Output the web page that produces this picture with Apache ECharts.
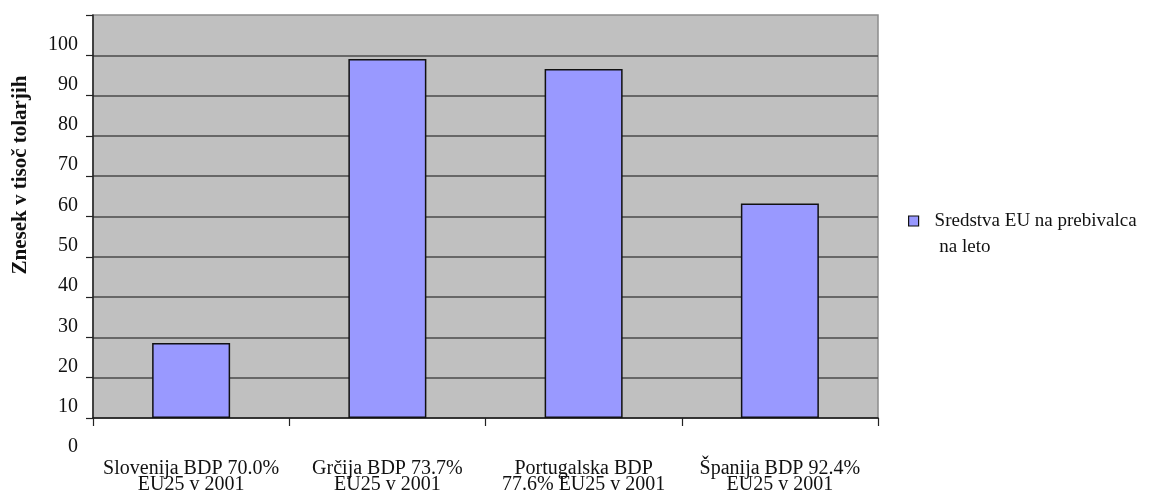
<!DOCTYPE html>
<html>
<head>
<meta charset="utf-8">
<style>
  html, body { margin: 0; padding: 0; background: #fff; }
  #chart { width: 1159px; height: 500px; }
</style>
<script src="https://cdn.jsdelivr.net/npm/echarts@6/dist/echarts.min.js"></script>
</head>
<body>
<div id="chart"></div>
<script>
// Categories (countries with GDP share of EU25 in 2001)
var categories = [
  'Slovenija BDP 70.0%\nEU25 v 2001',
  'Grčija BDP 73.7%\nEU25 v 2001',
  'Portugalska BDP\n77.6% EU25 v 2001',
  'Španija BDP 92.4%\nEU25 v 2001'
];
// EU funds per inhabitant per year, thousand tolars
var values = [28.6, 99.1, 96.6, 63.2];
var seriesName = 'Sredstva EU na prebivalca\n na leto';
var yTickLabels = [0, 10, 20, 30, 40, 50, 60, 70, 80, 90, 100];
var yTitle = 'Znesek v tisoč tolarjih';

var FONT = 'Liberation Serif';
var axisBase = 10;   // the category axis crosses the value axis here
var axisTop = 110;

function tickLabel(v) {
  return yTickLabels.indexOf(v) >= 0 ? String(v) : '';
}

// value labels sit a little above their grid lines
var valueLabelStyle = {
  margin: 15, color: '#111', fontFamily: FONT, fontSize: 20,
  verticalAlign: 'bottom', lineHeight: 22
};

var chart = echarts.init(document.getElementById('chart'), null, { renderer: 'canvas' });

chart.setOption({
  animation: false,
  backgroundColor: '#ffffff',
  textStyle: { fontFamily: FONT },
  grid: [
    {
      left: 93, right: 281, top: 15, bottom: 82,
      show: true, backgroundColor: '#C0C0C0', borderColor: '#8c8c8c', borderWidth: 1.5
    },
    { left: 93, right: 281, top: 15, bottom: 42, show: false }
  ],
  xAxis: [
    {
      type: 'category', gridIndex: 0, data: categories,
      boundaryGap: true,
      axisLine: { show: true, lineStyle: { color: '#111', width: 1.5 } },
      axisTick: { show: true, length: 8, alignWithLabel: false, lineStyle: { color: '#222', width: 1.2 } },
      axisLabel: {
        margin: 43, interval: 0, color: '#111',
        fontFamily: FONT, fontSize: 20, lineHeight: 16, align: 'center'
      },
      splitLine: { show: false }
    },
    {
      type: 'category', gridIndex: 1, data: categories, show: false
    }
  ],
  yAxis: [
    {
      type: 'value', gridIndex: 0, min: axisBase, max: axisTop, interval: 10,
      startValue: axisBase,
      axisLine: { show: true, lineStyle: { color: '#222', width: 1.5 } },
      axisTick: { show: true, length: 7, lineStyle: { color: '#222', width: 1.2 } },
      axisLabel: Object.assign({ formatter: tickLabel }, valueLabelStyle),
      splitLine: { show: true, showMinLine: false, showMaxLine: false, lineStyle: { color: '#4a4a4a', width: 1.5 } }
    },
    {
      type: 'value', gridIndex: 1, min: 0, max: axisTop, interval: 10,
      axisLine: { show: false },
      axisTick: { show: false },
      axisLabel: Object.assign({
        formatter: function (v) { return v < axisBase ? tickLabel(v) : ''; }
      }, valueLabelStyle),
      splitLine: { show: false }
    }
  ],
  legend: {
    orient: 'vertical',
    left: 908, top: 182,
    padding: 0,
    // square swatch at the left of a wider slot, leaving room before the text
    icon: 'path://M0,0H10V10H0Z',
    symbolKeepAspect: true,
    itemWidth: 32, itemHeight: 10,
    itemGap: 10,
    itemStyle: { borderColor: '#111', borderWidth: 1.2 },
    // first line of the name is level with the swatch
    formatter: function (name) { return '\n' + name; },
    textStyle: {
      fontFamily: FONT, fontSize: 19, color: '#111', lineHeight: 26
    },
    data: [seriesName]
  },
  graphic: [
    {
      type: 'text',
      x: 21, y: 175, rotation: Math.PI / 2,
      style: {
        text: yTitle, fill: '#111',
        font: 'bold 21px "' + FONT + '"',
        align: 'center', verticalAlign: 'middle'
      }
    }
  ],
  series: [
    {
      name: seriesName,
      type: 'bar',
      xAxisIndex: 0, yAxisIndex: 0,
      data: values,
      barWidth: 78,
      clip: true,
      itemStyle: { color: '#9999FF', borderColor: '#111', borderWidth: 1.5 }
    }
  ]
});
</script>
</body>
</html>
